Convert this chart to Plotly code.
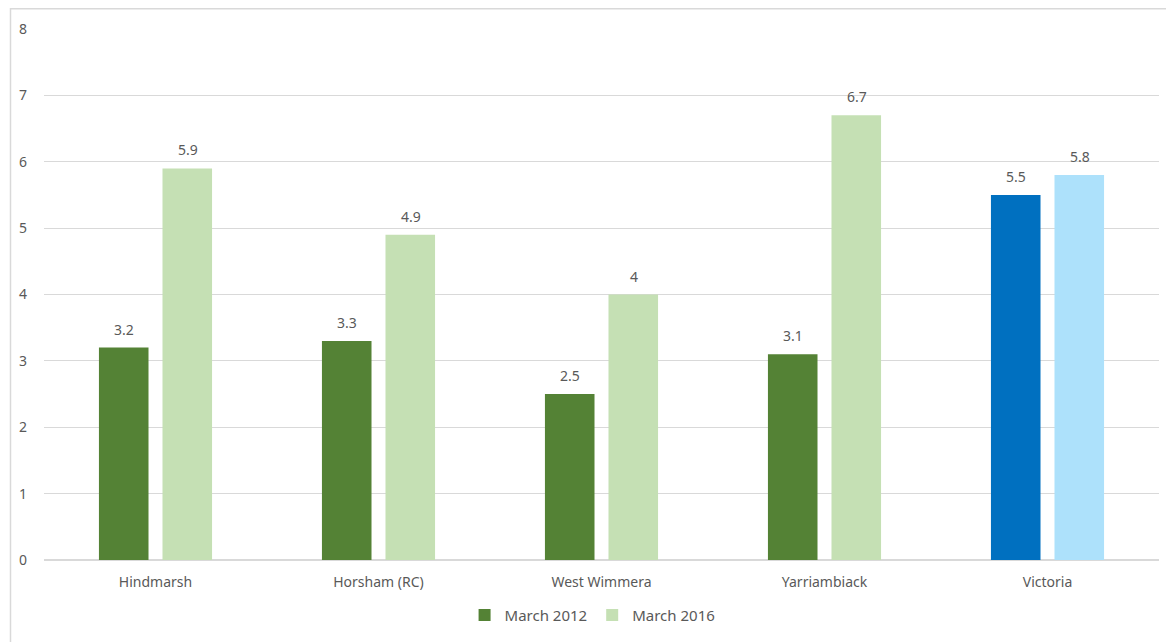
import plotly.graph_objects as go

categories = ["Hindmarsh", "Horsham (RC)", "West Wimmera", "Yarriambiack", "Victoria"]
march_2012 = [3.2, 3.3, 2.5, 3.1, 5.5]
march_2016 = [5.9, 4.9, 4.0, 6.7, 5.8]
y_ticks = [0, 1, 2, 3, 4, 5, 6, 7, 8]

c2012 = ["#548235"] * 4 + ["#0070C0"]
c2016 = ["#C5E0B4"] * 4 + ["#ADE1FB"]

W, H = 1174, 642
ml, mr, mt, mb = 36, 23, 21, 90
FONT = "Noto Sans, Lato, sans-serif"
GRAY = "#595959"

fig = go.Figure()
fig.add_trace(go.Bar(name="March 2012", x=categories, y=march_2012,
                     marker=dict(color=c2012, line=dict(width=0))))
fig.add_trace(go.Bar(name="March 2016", x=categories, y=march_2016,
                     marker=dict(color=c2016, line=dict(width=0))))

for vals, xs in ((march_2012, -32), (march_2016, 32)):
    for c, v in zip(categories, vals):
        fig.add_annotation(x=c, y=v, text=f"{v:g}", showarrow=False,
                           xshift=xs, yshift=7, yanchor="bottom",
                           font=dict(family=FONT, size=14, color=GRAY))

pw = W - ml - mr
ph = H - mt - mb
fig.add_shape(type="path", xref="paper", yref="paper",
              path=f"M {(2.5-ml)/pw} {-(H-mt)/ph + 1 - 0.01} L {(2.5-ml)/pw} {1 + (mt-0.75)/ph} L {(W+5-ml)/pw} {1 + (mt-0.75)/ph}",
              line=dict(color="#D9D9D9", width=1.5))

fig.update_layout(
    width=W, height=H,
    margin=dict(l=ml, r=mr, t=mt, b=mb, autoexpand=False),
    paper_bgcolor="white", plot_bgcolor="white",
    barmode="group", bargap=0.43, bargroupgap=0.22,
    font=dict(family=FONT, size=14, color=GRAY),
    showlegend=True,
    legend=dict(orientation="h", x=0.492, xanchor="center", y=-0.073, yanchor="top",
                font=dict(size=15, color=GRAY), itemwidth=30,
                traceorder="normal"),
    xaxis=dict(showgrid=False, showline=False, ticks="", tickfont=dict(size=14),
               ticklabelstandoff=12),
    yaxis=dict(range=[0, 8], tickvals=y_ticks, showgrid=True, gridcolor="#D9D9D9",
               gridwidth=1, zeroline=True, zerolinecolor="#D9D9D9", zerolinewidth=1.5,
               ticks="", tickfont=dict(size=14), ticklabelstandoff=16),
)

fig.write_html("out.html")
